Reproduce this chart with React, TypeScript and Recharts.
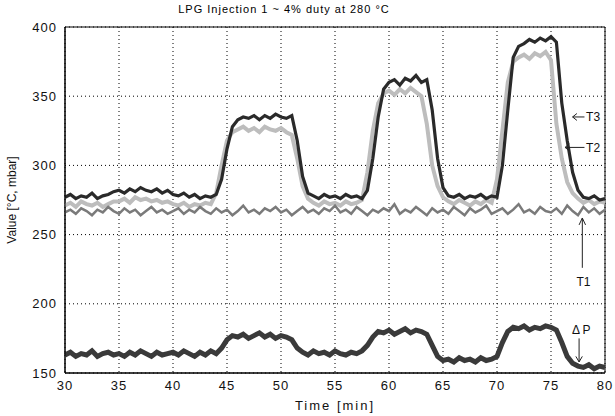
import React from "react"
import { LineChart, Line, XAxis, YAxis, CartesianGrid, ReferenceLine, ReferenceArea, ReferenceDot } from "recharts"

// time axis, 0.5 min steps
const times = [
  30, 30.5, 31, 31.5, 32, 32.5, 33, 33.5, 34, 34.5,
  35, 35.5, 36, 36.5, 37, 37.5, 38, 38.5, 39, 39.5,
  40, 40.5, 41, 41.5, 42, 42.5, 43, 43.5, 44, 44.5,
  45, 45.5, 46, 46.5, 47, 47.5, 48, 48.5, 49, 49.5,
  50, 50.5, 51, 51.5, 52, 52.5, 53, 53.5, 54, 54.5,
  55, 55.5, 56, 56.5, 57, 57.5, 58, 58.5, 59, 59.5,
  60, 60.5, 61, 61.5, 62, 62.5, 63, 63.5, 64, 64.5,
  65, 65.5, 66, 66.5, 67, 67.5, 68, 68.5, 69, 69.5,
  70, 70.5, 71, 71.5, 72, 72.5, 73, 73.5, 74, 74.5,
  75, 75.5, 76, 76.5, 77, 77.5, 78, 78.5, 79, 79.5,
  80,
]

const t3 = [
  277, 279, 276, 278, 277, 280, 276, 278, 279, 281,
  282, 280, 283, 281, 284, 282, 281, 283, 280, 282,
  279, 278, 280, 277, 279, 276, 278, 277, 279, 290,
  312, 328, 333, 335, 334, 336, 333, 336, 334, 337,
  335, 334, 336, 318, 292, 280, 278, 276, 279, 277,
  278, 276, 279, 277, 278, 276, 282, 305, 335, 355,
  360, 362, 358, 363, 361, 365, 360, 362, 340, 305,
  284, 278, 277, 279, 276, 278, 277, 279, 276, 278,
  277, 300, 340, 378, 386, 388, 391, 389, 392, 390,
  393, 389, 345, 318, 295, 282, 277, 276, 278, 275,
  276,
]

const t2 = [
  271, 273, 270, 274, 272, 271, 273, 270, 272, 274,
  274, 276, 273, 277, 275, 276, 274, 275, 273, 274,
  272, 271, 273, 270, 272, 271, 273, 272, 280, 300,
  318, 324, 326, 328, 325, 327, 324, 328, 326, 325,
  327, 324, 322, 305, 285, 276, 273, 271, 274, 272,
  273, 271, 274, 272, 273, 275, 295, 325, 345, 352,
  354, 351, 355, 352, 356, 353, 350, 330, 300, 285,
  277, 274, 272, 275, 273, 271, 274, 272, 275, 273,
  290, 325, 360, 375, 378, 380, 377, 381, 379, 382,
  376, 330, 305, 288, 280, 276, 273, 275, 272, 274,
  273,
]

const t1 = [
  266, 268, 265, 269, 267, 264, 268, 266, 270, 267,
  265, 269, 266, 268, 264, 267, 270, 266, 268, 265,
  267, 269, 265, 268, 266, 270, 267, 265, 269, 266,
  268, 264, 267, 271, 266, 268, 265, 269, 267, 270,
  266, 268, 264, 267, 270, 266, 268, 265, 269, 267,
  271, 266, 268, 265, 270, 267, 264, 268, 266, 269,
  267, 272, 265, 268, 266, 270, 267, 264, 269, 266,
  268, 265, 270, 267, 264, 269, 266, 268, 271, 265,
  267, 269, 265, 268, 272, 266, 268, 265, 270, 267,
  266, 269, 265, 271, 267, 264, 270, 266, 269, 265,
  268,
]

const dp = [
  163, 165, 162, 164, 163, 166, 162, 164, 165, 163,
  164, 162, 165, 163, 166, 164, 162, 165, 163, 164,
  165, 163, 166, 164, 162, 165, 163, 166, 164, 168,
  174, 177, 176, 178, 175, 177, 179, 176, 178, 175,
  177, 176, 174, 168, 165, 163, 166, 164, 165, 163,
  166, 164, 163, 165, 164, 166, 170, 176, 180, 179,
  181, 178, 180, 182, 179, 181, 180, 178, 170, 162,
  159, 160, 158, 161, 159, 160, 158, 161, 159, 160,
  162, 172, 180, 183, 182, 184, 181, 183, 182, 184,
  183, 181, 172, 162, 157, 155, 154, 156, 153, 155,
  154,
]

const xTicks = [30, 35, 40, 45, 50, 55, 60, 65, 70, 75, 80]
const yTicks = [150, 200, 250, 300, 350, 400]

const data = times.map((t, i) => ({ t, t1: t1[i], t2: t2[i], t3: t3[i], dp: dp[i] }))

const font = "'Liberation Sans', Arial, sans-serif"
const lbl = (value: string) => ({ value, position: "center" as const, fill: "#111", fontSize: 12, fontFamily: font })

export default function App() {
  return (
    <div style={{ position: "absolute", left: 0, top: 0, width: 615, height: 416, background: "#fff" }}>
      <div
        style={{
          position: "absolute", top: 3, left: 0, width: 568, textAlign: "center",
          fontFamily: font, fontSize: 11, letterSpacing: 1, color: "#000",
        }}
      >
        LPG Injection 1 ~ 4% duty at 280 °C
      </div>
      <LineChart width={615} height={416} data={data} margin={{ top: 27, right: 10, bottom: 0, left: 0 }}>
        <CartesianGrid stroke="#000" strokeDasharray="1 3" />
        <XAxis
          dataKey="t" type="number" domain={[30, 80]} ticks={xTicks} height={43}
          tickLine={false} axisLine={{ stroke: "#000" }}
          tick={{ fontSize: 13, fill: "#111", fontFamily: font, letterSpacing: 1 }}
          label={{ value: "Time [min]", position: "insideBottom", offset: 6, fontSize: 13, fill: "#111", fontFamily: font, letterSpacing: 2 }}
        />
        <YAxis
          type="number" domain={[150, 400]} ticks={yTicks} width={65}
          tickLine={false} axisLine={{ stroke: "#000" }}
          tick={{ fontSize: 13, fill: "#111", fontFamily: font, letterSpacing: 1 }}
          label={{ value: "Value [°C, mbar]", angle: -90, position: "insideLeft", offset: 12, style: { textAnchor: "middle", fill: "#111" }, fontSize: 12, fontFamily: font }}
        />
        <ReferenceArea x1={30} x2={80} y1={150} y2={400} fill="none" stroke="#000" strokeWidth={1} />
        <Line dataKey="t2" stroke="#bdbdbd" strokeWidth={4} dot={false} isAnimationActive={false} />
        <Line dataKey="t1" stroke="#7a7a7a" strokeWidth={2.5} dot={false} isAnimationActive={false} />
        <Line dataKey="t3" stroke="#2a2a2a" strokeWidth={3.2} dot={false} isAnimationActive={false} />
        <Line dataKey="dp" stroke="#3a3a3a" strokeWidth={5} dot={false} isAnimationActive={false} />

        {/* T3 arrow */}
        <ReferenceLine segment={[{ x: 78.1, y: 335 }, { x: 77.0, y: 335 }]} stroke="#222" />
        <ReferenceLine segment={[{ x: 77.0, y: 335 }, { x: 77.4, y: 337.5 }]} stroke="#222" />
        <ReferenceLine segment={[{ x: 77.0, y: 335 }, { x: 77.4, y: 332.5 }]} stroke="#222" />
        <ReferenceDot x={78.9} y={335} r={0} fill="none" stroke="none" label={lbl("T3")} />
        {/* T2 arrow */}
        <ReferenceLine segment={[{ x: 78.1, y: 313 }, { x: 76.3, y: 313 }]} stroke="#222" />
        <ReferenceLine segment={[{ x: 76.3, y: 313 }, { x: 76.7, y: 315.5 }]} stroke="#222" />
        <ReferenceLine segment={[{ x: 76.3, y: 313 }, { x: 76.7, y: 310.5 }]} stroke="#222" />
        <ReferenceDot x={78.9} y={313} r={0} fill="none" stroke="none" label={lbl("T2")} />
        {/* T1 arrow */}
        <ReferenceLine segment={[{ x: 77.9, y: 226 }, { x: 77.9, y: 262 }]} stroke="#222" />
        <ReferenceLine segment={[{ x: 77.9, y: 262 }, { x: 77.6, y: 257 }]} stroke="#222" />
        <ReferenceLine segment={[{ x: 77.9, y: 262 }, { x: 78.2, y: 257 }]} stroke="#222" />
        <ReferenceDot x={78.0} y={216} r={0} fill="none" stroke="none" label={lbl("T1")} />
        {/* dP arrow */}
        <ReferenceLine segment={[{ x: 77.6, y: 175 }, { x: 77.6, y: 158 }]} stroke="#222" />
        <ReferenceLine segment={[{ x: 77.6, y: 158 }, { x: 77.3, y: 162 }]} stroke="#222" />
        <ReferenceLine segment={[{ x: 77.6, y: 158 }, { x: 77.9, y: 162 }]} stroke="#222" />
        <ReferenceDot x={77.8} y={181} r={0} fill="none" stroke="none" label={lbl("Δ P")} />
      </LineChart>
    </div>
  )
}
